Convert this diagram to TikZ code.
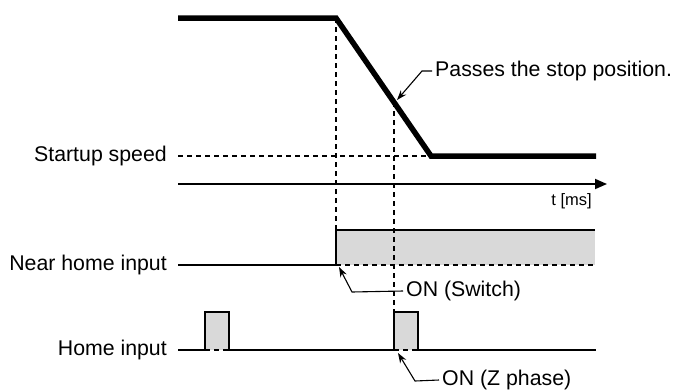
\documentclass[tikz,border=0pt]{standalone}
\usepackage{fontspec}
\setmainfont{Liberation Sans}
\usetikzlibrary{arrows.meta, positioning, calc}

\begin{document}
\begin{tikzpicture}[x=1pt, y=-1pt,
        every node/.style={draw=none, inner sep=0pt, font=\fontsize{21.3}{25}\selectfont},
        speed/.style={line width=5.5pt, line join=miter},
        signal/.style={line width=2.2pt, line join=miter},
        guide/.style={line width=1.6pt, dash pattern=on 5pt off 4pt},
        onfill/.style={fill=black!15},
        leader/.style={line width=1.1pt, -{Stealth[length=10pt, width=7pt]}}]
        \useasboundingbox (0,0) rectangle (674,389);

        % 速度
        \coordinate (v0) at (178,18);
        \coordinate (dec) at (336,18);
        \coordinate (low) at (431,156);
        \coordinate (v1) at (596,156);
        \coordinate (stop) at ($(dec)!0.61!(low)$);

        % 時間軸
        \coordinate (t0) at (178,184);
        \coordinate (t1) at (607,184);

        % 原点近傍入力
        \coordinate (n0) at (178,265);
        \coordinate (non) at (336,265);
        \coordinate (nhi) at (336,230);
        \coordinate (n1) at (595,230);
        \coordinate (n1low) at (595,265);

        % 原点入力
        \coordinate (h0) at (178,350);
        \coordinate (p1a) at (205,312);
        \coordinate (p1b) at (229,350);
        \coordinate (p2a) at (394,312);
        \coordinate (p2b) at (418,350);
        \coordinate (h1) at (596,350);

        % 塗り
        \fill[onfill] (nhi) rectangle (n1low);
        \fill[onfill] (p1a) rectangle (p1b);
        \fill[onfill] (p2a) rectangle (p2b);

        % 補助線
        \draw[guide] (178,156) -- (low);
        \draw[guide] (dec) -- (nhi);
        \draw[guide] (stop) -- (stop |- p2a);
        \draw[guide] (non) -- (n1low);
        \draw[guide] (p1a |- h0) -- (p1b);
        \draw[guide] (p2a |- h0) -- (p2b);

        % 波形
        \draw[speed] (v0) -- (dec) -- (low) -- (v1);
        \draw[line width=1.8pt, -{Triangle[length=12pt, width=10pt]}] (t0) -- (t1);
        \draw[signal] (n0) -- (non) -- (nhi) -- (n1);
        \draw[signal] (h0) -| (p1a) -| (p1b) -| (p2a) -| (p2b) -- (h1);

        % ラベル
        \node[anchor=east] (lstart) at (167,156) {Startup speed};
        \node[anchor=east] (lnear) at (167,265) {Near home input};
        \node[anchor=east] (lhome) at (167,350) {Home input};
        \node[anchor=north east, font=\fontsize{16.5}{20}\selectfont] (lt) at (592,193) {t [ms]};

        \node[anchor=west] (lpass) at (435,71) {Passes the stop position.};
        \node[anchor=west] (lsw) at (406,291) {ON (Switch)};
        \node[anchor=west] (lz) at (442,380) {ON (Z phase)};

        % 引き出し線
        \draw[leader] ([xshift=-3pt]lpass.west) -- ++(-10,0) -- (397,100);
        \draw[leader] ([xshift=-3pt]lsw.west) -- (352,292) -- (339,267);
        \draw[leader] ([xshift=-3pt]lz.west) -- (415,381) -- (398,353);
\end{tikzpicture}
\end{document}
